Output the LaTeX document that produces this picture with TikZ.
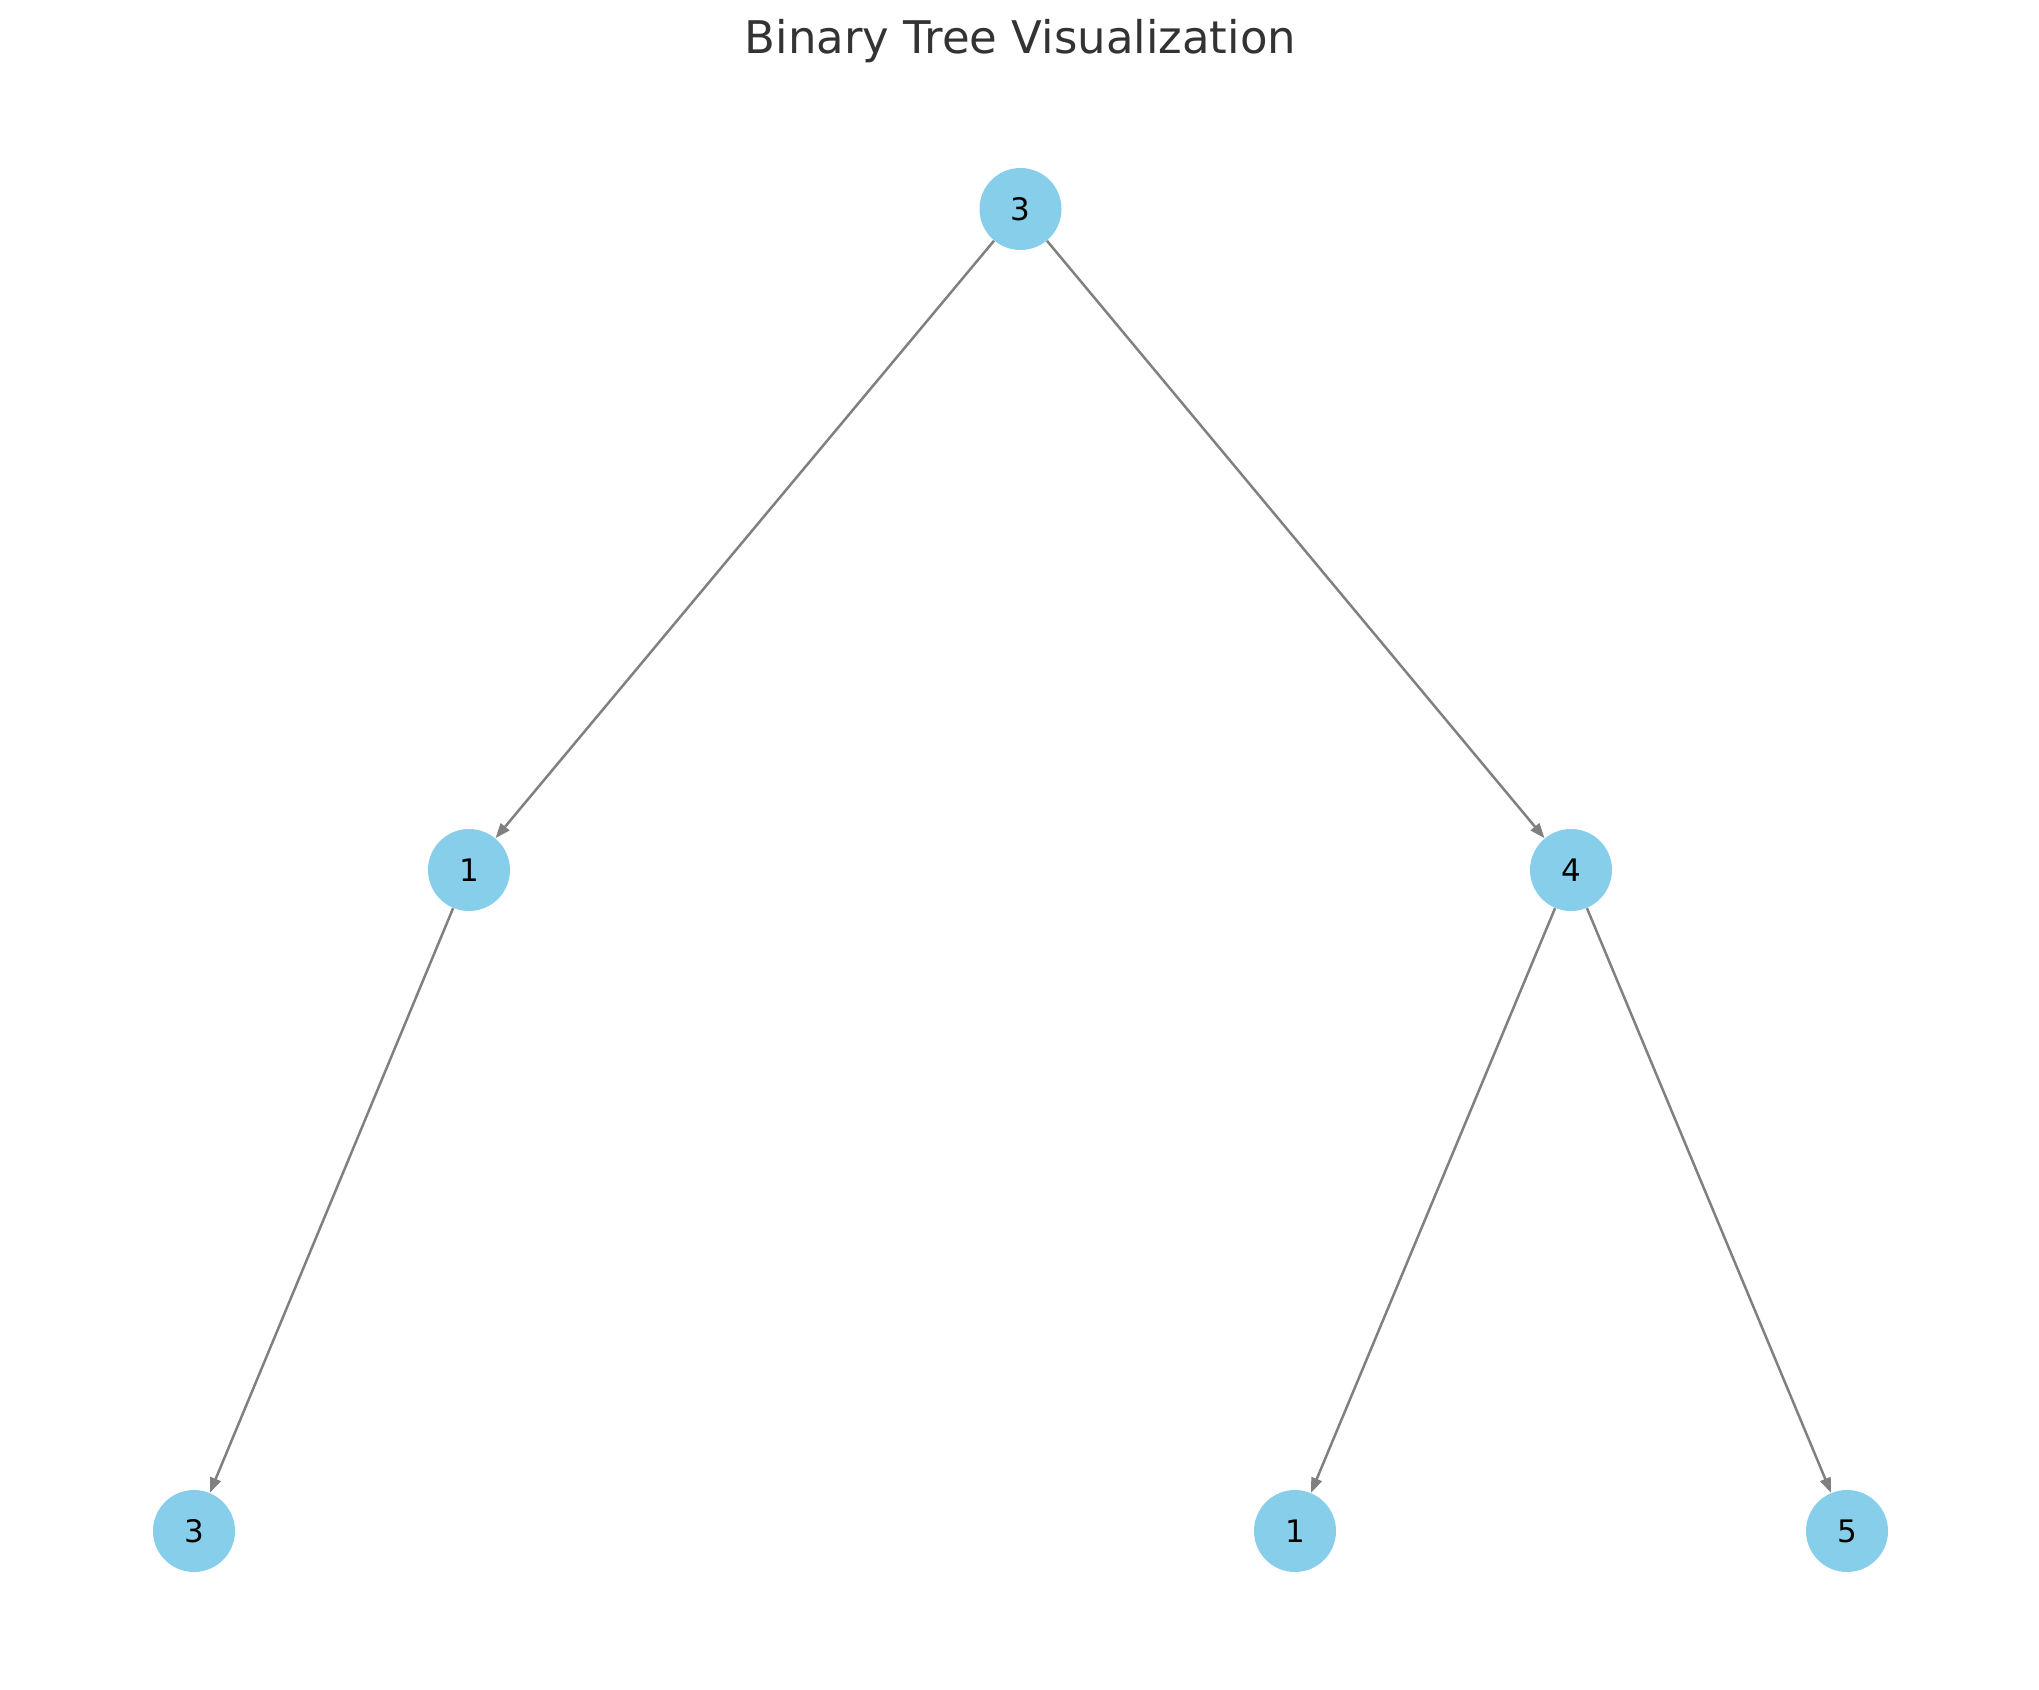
\documentclass[tikz,border=0pt]{standalone}
\usepackage{fontspec}
\setmainfont{DejaVu Sans}
\usetikzlibrary{arrows.meta}
\definecolor{skyblue}{HTML}{87CEEB}
\definecolor{edgegray}{HTML}{808080}
\definecolor{titlegray}{HTML}{333333}
\begin{document}
\begin{tikzpicture}[x=0.5pt,y=-0.5pt]
        \tikzstyle{treenode}=[circle,fill=skyblue,minimum size=41pt,inner sep=0pt,font=\fontsize{15.5pt}{18pt}\selectfont]
        \tikzstyle{treeedge}=[edgegray,line width=1.25pt,-{Triangle[length=7.5pt,width=5.5pt]}]
        \useasboundingbox (0,0) rectangle (2039,1690);
        \node [anchor=base,text=titlegray,font=\fontsize{22.5pt}{27pt}\selectfont] (title) at (1020.5,54) {Binary Tree Visualization};
        \node [treenode] (r) at (1020.5,209) {3};
        \node [treenode] (l) at (469,870) {1};
        \node [treenode] (rr) at (1571,870) {4};
        \node [treenode] (ll) at (194,1531) {3};
        \node [treenode] (rl) at (1295,1531) {1};
        \node [treenode] (rrr) at (1847,1531) {5};
        \draw [treeedge] (r) -- (l);
        \draw [treeedge] (r) -- (rr);
        \draw [treeedge] (l) -- (ll);
        \draw [treeedge] (rr) -- (rl);
        \draw [treeedge] (rr) -- (rrr);
\end{tikzpicture}
\end{document}
